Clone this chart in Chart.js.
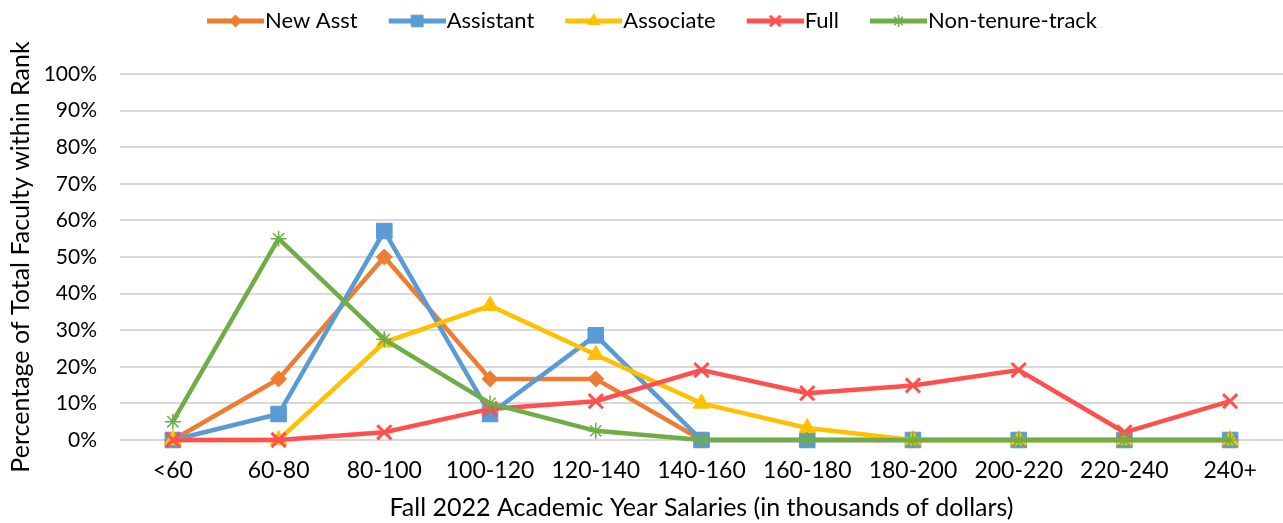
<!DOCTYPE html>
<html>
<head>
<meta charset="utf-8">
<script src="https://cdn.jsdelivr.net/npm/chart.js@4.4.0/dist/chart.umd.min.js"></script>
<style>
  html, body { margin: 0; padding: 0; background: #fff; }
  #wrap { width: 1283px; height: 523px; position: relative; }
</style>
</head>
<body>
<div id="wrap"><canvas id="myChart"></canvas></div>
<script>
// Data

var categories = ['<60', '60-80', '80-100', '100-120', '120-140', '140-160', '160-180', '180-200', '200-220', '220-240', '240+']
var newAsst = [0, 16.7, 50, 16.7, 16.7, 0, 0, 0, 0, 0, 0]
var assistant = [0, 7.1, 57.1, 7.1, 28.6, 0, 0, 0, 0, 0, 0]
var associate = [0, 0, 26.7, 36.7, 23.3, 10, 3.3, 0, 0, 0, 0]
var full = [0, 0, 2.1, 8.5, 10.6, 19.1, 12.8, 14.9, 19.1, 2.1, 10.6]
var nonTenure = [5, 55, 27.5, 10, 2.5, 0, 0, 0, 0, 0, 0]

var font = 'Lato, "Open Sans", sans-serif'

// Legend icons: line with marker, like the spreadsheet legend.
// Extra blank space on the left of each icon spaces the items out.

var iconLead = 31
var iconWidth = iconLead + 57

function legendIcon(color, style, radius, borderWidth) {
    var c = document.createElement('canvas')
    c.width = iconWidth
    c.height = 20
    var g = c.getContext('2d')
    g.strokeStyle = color
    g.lineWidth = 5
    g.beginPath()
    g.moveTo(iconLead, 10)
    g.lineTo(iconWidth, 10)
    g.stroke()
    g.fillStyle = color
    g.lineWidth = borderWidth
    Chart.helpers.drawPoint(g, { pointStyle: style, radius: radius, borderWidth: borderWidth, rotation: 0 }, iconLead + 28.5, 10)
    return c
}

function series(label, values, color, style, radius, borderWidth, order) {
    return {
        label: label,
        data: values,
        borderColor: color,
        backgroundColor: color,
        pointBackgroundColor: color,
        pointBorderColor: color,
        pointStyle: style,
        pointRadius: radius,
        pointHoverRadius: radius,
        pointBorderWidth: borderWidth,
        borderWidth: 4.5,
        tension: 0,
        clip: false,
        order: order,
        icon: legendIcon(color, style, radius * 0.75, borderWidth)
    }
}

var data = {
    labels: categories,
    datasets: [
        series('New Asst', newAsst, '#ED7D31', 'rectRot', 8, 1, 5),
        series('Assistant', assistant, '#5B9BD5', 'rect', 11, 1, 4),
        series('Associate', associate, '#FFC000', 'triangle', 9.5, 1, 3),
        series('Full', full, '#FF5050', 'crossRot', 10, 3, 2),
        series('Non-tenure-track', nonTenure, '#70AD47', 'star', 8, 1.5, 1)
    ]
}

// Extra room under the legend, and nudge it a little to the left
var legendMargin = {
    id: 'legendMargin',
    beforeInit(chart) {
        var legend = chart.legend
        var fit = legend.fit
        legend.fit = function () {
            fit.call(legend)
            legend.height += 32
        }
        var draw = legend.draw
        legend.draw = function () {
            legend.left -= 4
            legend.right -= 4
            draw.call(legend)
            legend.left += 4
            legend.right += 4
        }
    }
}

var options = {
    responsive: true,
    maintainAspectRatio: false,
    animation: false,
    layout: { autoPadding: false, padding: { left: 6, right: -2, top: 0, bottom: 0 } },
    plugins: {
        legend: {
            position: 'top',
            labels: {
                usePointStyle: true,
                pointStyleWidth: iconWidth - 20,
                padding: 10,
                color: '#000',
                font: { family: font, size: 22 },
                generateLabels: function (chart) {
                    return chart.data.datasets.map(function (ds, i) {
                        return {
                            text: ds.label,
                            fillStyle: ds.borderColor,
                            strokeStyle: ds.borderColor,
                            lineWidth: 0,
                            pointStyle: ds.icon,
                            hidden: false,
                            datasetIndex: i,
                            fontColor: '#000'
                        }
                    })
                }
            }
        },
        tooltip: { enabled: false }
    },
    scales: {
        x: {
            offset: true,
            grid: { display: false, offset: true },
            border: { display: false },
            ticks: { color: '#000', font: { family: font, size: 23 }, padding: 9, maxRotation: 0 },
            title: { display: true, text: 'Fall 2022 Academic Year Salaries (in thousands of dollars)', color: '#000', font: { family: font, size: 25 }, padding: { top: 0, bottom: 0 } },
            afterFit: function (axis) { axis.height = 83 }
        },
        y: {
            min: 0,
            max: 100,
            grid: { color: '#D9D9D9', lineWidth: 2, drawTicks: false },
            border: { display: false },
            ticks: {
                stepSize: 10,
                color: '#000',
                padding: 23,
                font: { family: font, size: 21 },
                callback: function (v) { return v + '%' }
            },
            title: { display: true, text: 'Percentage of Total Faculty within Rank', color: '#000', font: { family: font, size: 25 }, padding: { top: 0, bottom: 4 } },
            afterFit: function (axis) { axis.width = 114 }
        }
    }
}

var ctx = document.getElementById('myChart').getContext('2d')

var myChart = new Chart(ctx, {
    type: 'line',
    data: data,
    options: options,
    plugins: [legendMargin]
})
</script>
</body>
</html>
